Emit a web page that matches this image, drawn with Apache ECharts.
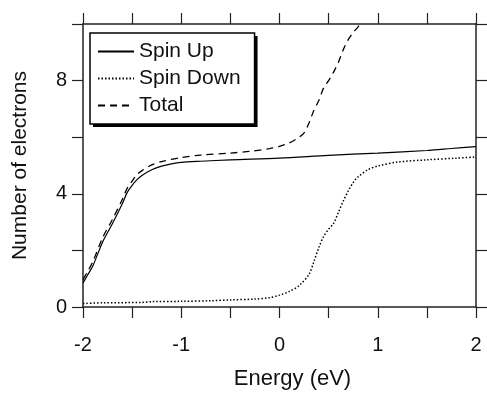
<!DOCTYPE html>
<html>
<head>
<meta charset="utf-8">
<script src="https://cdn.jsdelivr.net/npm/echarts@6/dist/echarts.min.js"></script>
<style>
  html, body { margin: 0; padding: 0; background: #fff; }
  #chart { width: 487px; height: 397px; }
</style>
</head>
<body>
<div id="chart"></div>
<script>
// values
const spinUpE = [-2, -1.95, -1.9, -1.8, -1.7, -1.6, -1.55, -1.5, -1.45, -1.4, -1.3, -1.2, -1.1, -1.0, -0.8, -0.5, 0, 0.5, 1.0, 1.5, 1.75, 2.0];
const spinUpN = [0.85, 1.15, 1.45, 2.3, 2.95, 3.65, 4.05, 4.3, 4.5, 4.65, 4.85, 4.98, 5.06, 5.11, 5.15, 5.2, 5.26, 5.36, 5.44, 5.53, 5.6, 5.67];

const spinDownE = [-2, -1.8, -1.4, -1.3, -1.0, -0.7, -0.5, -0.25, -0.1, 0, 0.1, 0.2, 0.3, 0.35, 0.4, 0.45, 0.5, 0.55, 0.6, 0.65, 0.7, 0.75, 0.8, 0.9, 1.0, 1.2, 1.5, 1.8, 2.0];
const spinDownN = [0.12, 0.15, 0.16, 0.19, 0.2, 0.22, 0.25, 0.28, 0.33, 0.42, 0.55, 0.76, 1.15, 1.6, 2.1, 2.5, 2.75, 2.95, 3.35, 3.75, 4.1, 4.4, 4.6, 4.85, 4.98, 5.12, 5.2, 5.26, 5.3];

const totalE = [-2, -1.95, -1.9, -1.8, -1.7, -1.6, -1.55, -1.5, -1.45, -1.4, -1.3, -1.2, -1.0, -0.8, -0.5, -0.3, -0.1, 0, 0.1, 0.2, 0.25, 0.3, 0.35, 0.4, 0.45, 0.5, 0.55, 0.6, 0.65, 0.7, 0.75, 0.8, 0.85, 0.9];
const totalN = [0.97, 1.27, 1.6, 2.45, 3.1, 3.8, 4.2, 4.45, 4.68, 4.82, 5.02, 5.14, 5.28, 5.37, 5.44, 5.5, 5.6, 5.68, 5.8, 6.0, 6.15, 6.5, 6.95, 7.3, 7.75, 8.0, 8.3, 8.65, 9.1, 9.45, 9.7, 9.9, 10.15, 10.35];

const seriesNames = ['Spin Up', 'Spin Down', 'Total'];
const xLabels = [-2, -1, 0, 1, 2];
const yLabels = [0, 4, 8];

const pairs = (xs, ys) => xs.map((x, i) => [x, ys[i]]);

const font = '"Liberation Sans", Arial, Helvetica, sans-serif';
const ink = '#111';
const axisLine = { show: true, onZero: false, lineStyle: { color: '#222', width: 1.5 } };
const axisTick = { show: true, inside: false, length: 11, lineStyle: { color: '#222', width: 1.2 } };

// shared legend layout; a second copy filled black and nudged by 3px acts as the drop shadow
const legendBase = {
  orient: 'vertical',
  padding: [8, 14, 8, 7],
  itemGap: 6,
  itemWidth: 36,
  itemHeight: 14,
  borderRadius: 0,
  selectedMode: false,
  textStyle: { fontFamily: font, fontSize: 21, color: ink },
  itemStyle: { color: 'transparent', borderColor: 'transparent', borderWidth: 0 },
  data: seriesNames
};

const chart = echarts.init(document.getElementById('chart'), null, { renderer: 'canvas' });

const option = {
  backgroundColor: '#fff',
  animation: false,
  grid: { left: 83, right: 11, top: 24, bottom: 90, containLabel: false },
  legend: [
    {
      ...legendBase,
      left: 93, top: 36, z: 4,
      backgroundColor: '#000',
      borderWidth: 0,
      textStyle: { ...legendBase.textStyle, color: '#000' },
      lineStyle: { color: '#000' }
    },
    {
      ...legendBase,
      left: 90, top: 33, z: 6,
      backgroundColor: '#fff',
      borderColor: '#000',
      borderWidth: 1.5
    }
  ],
  xAxis: [
    {
      type: 'value', min: -2, max: 2, interval: 0.5,
      name: 'Energy (eV)', nameLocation: 'middle', nameGap: 61,
      nameTextStyle: { fontFamily: font, fontSize: 22, color: ink, padding: [0, 0, 0, 26] },
      axisLine, axisTick,
      axisLabel: {
        margin: 28, fontFamily: font, fontSize: 20, color: ink,
        formatter: v => (xLabels.includes(v) ? String(v) : '')
      },
      splitLine: { show: false }
    },
    {
      type: 'value', position: 'top', min: -2, max: 2, interval: 0.5,
      axisLine, axisTick, axisLabel: { show: false }, splitLine: { show: false }
    }
  ],
  yAxis: [
    {
      type: 'value', min: 0, max: 10, interval: 2,
      name: 'Number of electrons', nameLocation: 'middle', nameGap: 52,
      nameTextStyle: { fontFamily: font, fontSize: 21, color: ink },
      axisLine, axisTick,
      axisLabel: {
        margin: 16, fontFamily: font, fontSize: 20, color: ink,
        formatter: v => (yLabels.includes(v) ? String(v) : '')
      },
      splitLine: { show: false }
    },
    {
      type: 'value', position: 'right', min: 0, max: 10, interval: 2,
      axisLine, axisTick, axisLabel: { show: false }, splitLine: { show: false }
    }
  ],
  series: [
    {
      name: seriesNames[0], type: 'line', data: pairs(spinUpE, spinUpN),
      symbol: 'none', smooth: 0.3, clip: true,
      lineStyle: { color: '#000', width: 1.2, type: 'solid' },
      itemStyle: { color: '#000' }
    },
    {
      name: seriesNames[1], type: 'line', data: pairs(spinDownE, spinDownN),
      symbol: 'none', smooth: 0.3, clip: true,
      lineStyle: { color: '#000', width: 1.5, type: [1.5, 2] },
      itemStyle: { color: '#000' }
    },
    {
      name: seriesNames[2], type: 'line', data: pairs(totalE, totalN),
      symbol: 'none', smooth: 0.3, clip: true,
      lineStyle: { color: '#000', width: 1.3, type: [7, 5] },
      itemStyle: { color: '#000' }
    }
  ]
};

chart.setOption(option);
window.addEventListener('resize', () => chart.resize());
</script>
</body>
</html>
